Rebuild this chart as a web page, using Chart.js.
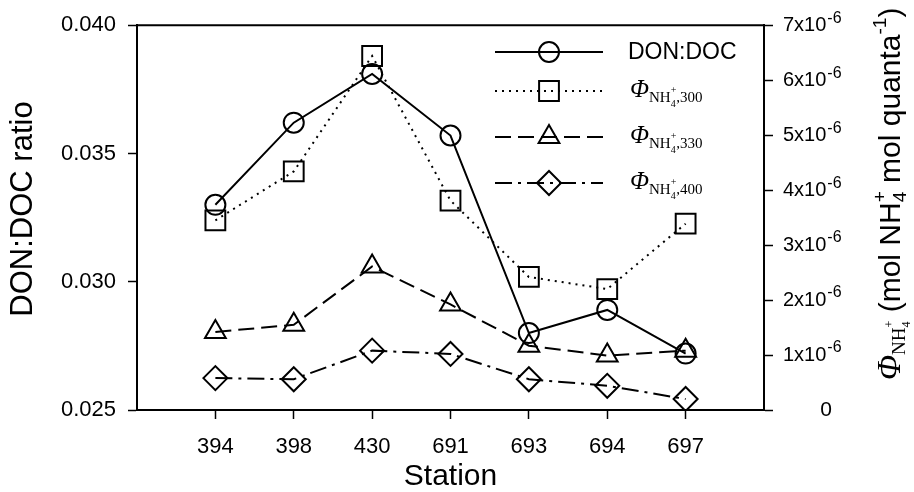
<!DOCTYPE html>
<html><head><meta charset="utf-8">
<script src="https://cdn.jsdelivr.net/npm/chart.js@4/dist/chart.umd.min.js"></script>
<style>html,body{margin:0;padding:0;background:#fff}#wrap{width:914px;height:492px;position:relative}</style>
</head><body><div id="wrap"><canvas id="c" width="914" height="492"></canvas></div>
<script>
// ---- data ----
const stations = ['394', '398', '430', '691', '693', '694', '697'];
const donDoc = [0.0330, 0.0362, 0.0381, 0.0357, 0.0280, 0.0289, 0.0272];
const phi300 = [3.45e-6, 4.34e-6, 6.44e-6, 3.81e-6, 2.42e-6, 2.20e-6, 3.39e-6];
const phi330 = [1.42e-6, 1.55e-6, 2.61e-6, 1.92e-6, 1.17e-6, 0.99e-6, 1.08e-6];
const phi400 = [0.58e-6, 0.56e-6, 1.08e-6, 1.02e-6, 0.56e-6, 0.44e-6, 0.20e-6];
const leftTicks = [0.025, 0.030, 0.035, 0.040];
const rightTickMantissa = [0, 1, 2, 3, 4, 5, 6, 7];
const legendSuffix = ['', ',300', ',330', ',400'];

const SANS = "'Liberation Sans', Arial, Helvetica, sans-serif";
const SERIF = "'Liberation Serif', 'Times New Roman', serif";
const xPos = stations.map((s, i) => i + 1);
const pts = arr => arr.map((v, i) => ({x: xPos[i], y: v}));

function drawRich(ctx, x, y, segs) {
  let cx = x, stackW = null;
  for (const s of segs) {
    ctx.font = s.f;
    cx += s.gap || 0;
    ctx.fillText(s.t, cx, y + (s.dy || 0));
    const w = ctx.measureText(s.t).width;
    if (s.stack) { stackW = w; continue; }
    cx += stackW !== null ? Math.max(w, stackW) : w;
    stackW = null;
  }
  return cx;
}

function drawMarker(ctx, style, r, x, y) {
  ctx.beginPath();
  if (style === 'circle') ctx.arc(x, y, r, 0, Math.PI * 2);
  else if (style === 'rect') { const s = Math.SQRT1_2 * r; ctx.rect(x - s, y - s, 2 * s, 2 * s); }
  else if (style === 'triangle') {
    ctx.moveTo(x, y - r);
    ctx.lineTo(x + Math.cos(Math.PI / 6) * r, y + r / 2);
    ctx.lineTo(x - Math.cos(Math.PI / 6) * r, y + r / 2);
    ctx.closePath();
  } else if (style === 'rectRot') {
    ctx.moveTo(x - r, y); ctx.lineTo(x, y - r); ctx.lineTo(x + r, y); ctx.lineTo(x, y + r); ctx.closePath();
  }
  ctx.stroke();
}

const decorPlugin = {
  id: 'decor',
  afterDraw(chart) {
    const ctx = chart.ctx, a = chart.chartArea;
    ctx.save();
    // top frame line
    ctx.strokeStyle = '#000'; ctx.lineWidth = 2;
    ctx.beginPath(); ctx.moveTo(a.left - 1, a.top); ctx.lineTo(a.right + 1, a.top); ctx.stroke();

    // right tick labels with superscript exponent
    const ys = chart.scales.y1;
    ctx.fillStyle = '#000'; ctx.textBaseline = 'middle';
    rightTickMantissa.forEach(m => {
      const py = ys.getPixelForValue(m * 1e-6);
      if (m === 0) {
        ctx.textAlign = 'center'; ctx.font = '21px ' + SANS;
        ctx.fillText('0', 826, py);
      } else {
        ctx.textAlign = 'left';
        drawRich(ctx, 783, py, [
          {t: m + 'x10', f: '20px ' + SANS},
          {t: '-6', f: '16px ' + SANS, dy: -7, gap: 1}
        ]);
      }
    });

    // right axis title (rotated, reading bottom to top)
    ctx.save();
    ctx.translate(900, 380);
    ctx.rotate(-Math.PI / 2);
    ctx.textAlign = 'left'; ctx.textBaseline = 'alphabetic';
    drawRich(ctx, 0, 0, [
      {t: '\u03A6', f: 'italic 33px ' + SERIF},
      {t: 'NH', f: '19px ' + SERIF, dy: 5},
      {t: '4', f: '12px ' + SERIF, dy: 10, stack: true},
      {t: '+', f: '12px ' + SERIF, dy: -7},
      {t: ' (mol NH', f: '30px ' + SANS},
      {t: '4', f: '19px ' + SANS, dy: 6, stack: true},
      {t: '+', f: '19px ' + SANS, dy: -14},
      {t: ' mol quanta', f: '30px ' + SANS},
      {t: '-1', f: '19px ' + SANS, dy: -14},
      {t: ')', f: '30px ' + SANS}
    ]);
    ctx.restore();

    // legend
    const rowsY = [52, 91, 137, 183];
    chart.data.datasets.forEach((ds, i) => {
      const y = rowsY[i];
      ctx.strokeStyle = '#000';
      ctx.lineWidth = ds.borderWidth;
      ctx.setLineDash(ds.borderDash || []);
      ctx.beginPath(); ctx.moveTo(495, y); ctx.lineTo(603, y); ctx.stroke();
      ctx.setLineDash([]);
      ctx.lineWidth = ds.pointBorderWidth;
      drawMarker(ctx, ds.pointStyle, ds.pointRadius, 549, y);
      ctx.fillStyle = '#000'; ctx.textAlign = 'left';
      if (i === 0) {
        ctx.textBaseline = 'middle'; ctx.font = '23px ' + SANS;
        ctx.fillText(ds.label, 628, y + 1);
      } else {
        ctx.textBaseline = 'alphabetic';
        drawRich(ctx, 630, y + 6, [
          {t: '\u03A6', f: 'italic 25px ' + SERIF},
          {t: 'NH', f: '15px ' + SERIF, dy: 5},
          {t: '4', f: '10px ' + SERIF, dy: 10, stack: true},
          {t: '+', f: '10px ' + SERIF, dy: -4},
          {t: legendSuffix[i], f: '15px ' + SERIF, dy: 5}
        ]);
      }
    });
    ctx.restore();
  }
};

const common = {borderColor: '#000', pointBorderColor: '#000', pointBackgroundColor: 'rgba(0,0,0,0)',
  pointBorderWidth: 2, borderWidth: 2, tension: 0, fill: false};

new Chart(document.getElementById('c'), {
  type: 'line',
  data: {
    datasets: [
      Object.assign({label: 'DON:DOC', data: pts(donDoc), yAxisID: 'y', borderDash: [], pointStyle: 'circle', pointRadius: 10}, common),
      Object.assign({label: 'phi300', data: pts(phi300), yAxisID: 'y1', borderDash: [2, 5], pointStyle: 'rect', pointRadius: 14}, common),
      Object.assign({label: 'phi330', data: pts(phi330), yAxisID: 'y1', borderDash: [16, 7], pointStyle: 'triangle', pointRadius: 12}, common),
      Object.assign({label: 'phi400', data: pts(phi400), yAxisID: 'y1', borderDash: [17, 6, 3, 6], pointStyle: 'rectRot', pointRadius: 12}, common)
    ]
  },
  options: {
    responsive: false,
    animation: false,
    events: [],
    layout: {padding: {top: 21, left: 0, right: 0, bottom: 0}},
    plugins: {legend: {display: false}, tooltip: {enabled: false}},
    scales: {
      x: {
        type: 'linear', position: 'bottom', min: 0, max: 8,
        afterBuildTicks: s => { s.ticks = xPos.map(v => ({value: v})); },
        afterFit: s => { s.height = 82; },
        ticks: {callback: v => stations[v - 1] || '', font: {size: 22, family: SANS}, color: '#000', padding: 15, maxRotation: 0, autoSkip: false},
        grid: {drawOnChartArea: false, drawTicks: true, tickLength: 9, tickWidth: 1.5, tickColor: '#000'},
        border: {display: true, color: '#000', width: 2},
        title: {display: true, text: 'Station', font: {size: 30, family: SANS, lineHeight: 1}, color: '#000', padding: {top: 1, bottom: 0}}
      },
      y: {
        type: 'linear', position: 'left', min: 0.025, max: 0.040,
        afterBuildTicks: s => { s.ticks = leftTicks.map(v => ({value: v})); },
        afterFit: s => { s.width = 137; },
        ticks: {callback: v => v.toFixed(3), font: {size: 22, family: SANS}, color: '#000', padding: 12},
        grid: {drawOnChartArea: false, drawTicks: true, tickLength: 9, tickWidth: 1.5, tickColor: '#000'},
        border: {display: true, color: '#000', width: 2},
        title: {display: true, text: '\u00A0\u00A0DON:DOC ratio', font: {size: 31, family: SANS, lineHeight: 1}, color: '#000', padding: {top: 8, bottom: 0}}
      },
      y1: {
        type: 'linear', position: 'right', min: 0, max: 7e-6,
        afterBuildTicks: s => { s.ticks = rightTickMantissa.map(m => ({value: m * 1e-6})); },
        afterFit: s => { s.width = 150; },
        ticks: {callback: () => '', font: {size: 20, family: SANS}},
        grid: {drawOnChartArea: false, drawTicks: true, tickLength: 9, tickWidth: 1.5, tickColor: '#000'},
        border: {display: true, color: '#000', width: 2}
      }
    }
  },
  plugins: [decorPlugin]
});
</script></body></html>
